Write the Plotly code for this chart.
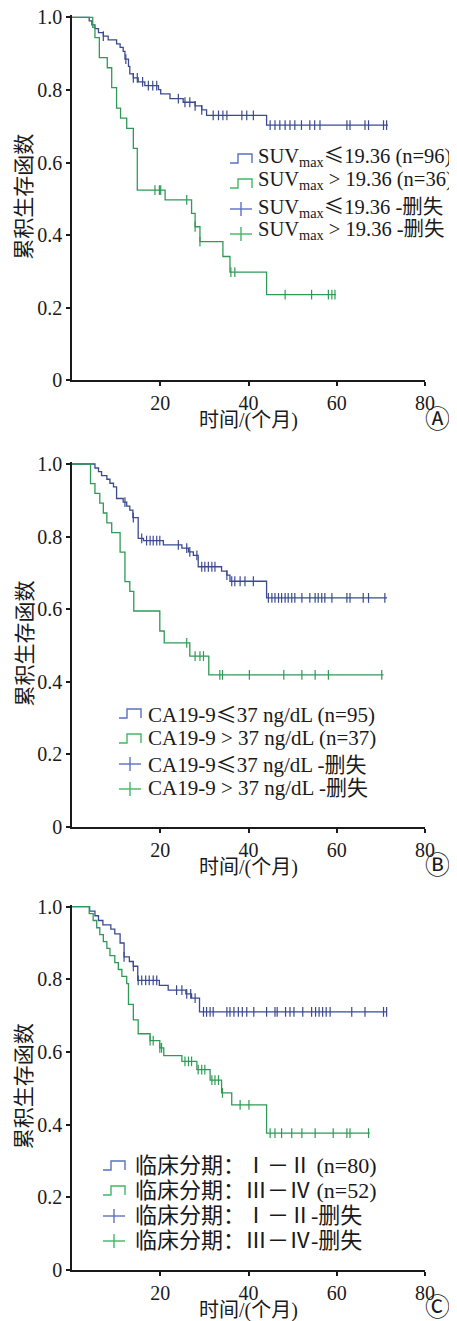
import numpy as np
import plotly.graph_objects as go

# target picture size and the page's default body offset
W_PIC, H_PIC = 457, 1321
OFF = 8
W, H = W_PIC - OFF, H_PIC - OFF

# ---------------- DATA ----------------
# Panel A: SUVmax
a_low_t = [0, 3.9, 4.5, 5.2, 6.0, 7.1, 8.2, 10.1, 10.9, 11.6, 12.0, 12.8, 13.1, 13.9, 15.0, 16.5, 19.6, 20.1, 22.2, 25.2, 27.9, 29.4, 30.5, 44.1]
a_low_s = [1.0, 0.990, 0.979, 0.969, 0.958, 0.948, 0.938, 0.927, 0.917, 0.906, 0.885, 0.865, 0.844, 0.833, 0.822, 0.812, 0.801, 0.789, 0.776, 0.766, 0.756, 0.745, 0.730, 0.703]
a_low_end = 71.6
a_low_c = [7.1, 12.2, 13.9, 14.8, 16.0, 17.3, 18.3, 19.2, 24.1, 25.6, 26.7, 27.9, 29.4, 32.0, 33.2, 34.2, 35.1, 38.5, 39.6, 41.1,
           44.9, 46.0, 47.1, 48.3, 49.4, 50.5, 52.0, 53.9, 55.0, 56.2, 62.3, 63.0, 66.4, 67.2, 70.6, 71.3]
a_high_t = [0, 4.7, 5.2, 6.2, 8.0, 9.0, 10.1, 11.0, 12.4, 13.9, 14.8, 21.1, 27.1, 27.9, 29.0, 34.2, 35.8, 44.1]
a_high_s = [1.0, 0.972, 0.944, 0.889, 0.861, 0.806, 0.750, 0.722, 0.694, 0.639, 0.524, 0.497, 0.460, 0.423, 0.382, 0.341, 0.298, 0.236]
a_high_end = 59.8
a_high_c = [18.8, 19.8, 20.1, 26.0, 27.9, 29.0, 36.0, 36.9, 48.3, 54.3, 58.1, 58.9, 59.6]

# Panel B: CA19-9
b_low_t = [0, 5.2, 6.0, 6.7, 7.9, 8.6, 9.4, 10.1, 11.6, 12.4, 13.1, 13.8, 15.0, 16.2, 20.7, 24.9, 26.4, 27.5, 28.6, 33.9, 35.1, 35.8, 44.1]
b_low_s = [1.0, 0.989, 0.979, 0.968, 0.958, 0.947, 0.937, 0.905, 0.895, 0.884, 0.873, 0.852, 0.795, 0.789, 0.777, 0.768, 0.758, 0.748, 0.717, 0.705, 0.694, 0.677, 0.631]
b_low_end = 71.4
b_low_c = [12.0, 13.9, 15.8, 16.9, 17.7, 18.4, 19.2, 19.9, 24.1, 26.0, 26.7, 28.3, 29.4, 30.1, 30.9, 31.7, 32.4, 35.1, 36.2, 36.9,
           38.1, 39.2, 41.1, 44.5, 45.3, 46.0, 46.8, 47.5, 48.3, 49.0, 49.8, 50.5, 52.1, 53.9, 55.1, 55.8, 56.6, 57.3, 58.9,
           62.3, 63.0, 66.0, 67.2, 70.9]
b_high_t = [0, 4.2, 5.2, 6.3, 7.1, 7.9, 9.0, 10.9, 12.0, 13.1, 14.0, 19.9, 20.9, 26.7, 31.0]
b_high_s = [1.0, 0.946, 0.919, 0.892, 0.865, 0.838, 0.811, 0.757, 0.676, 0.649, 0.595, 0.540, 0.507, 0.471, 0.419]
b_high_end = 70.6
b_high_c = [26.0, 27.9, 29.0, 29.8, 33.5, 34.1, 40.2, 48.0, 52.1, 55.1, 58.1, 70.2]

# Panel C: clinical stage
c_low_t = [0, 4.0, 5.2, 6.0, 7.0, 8.8, 9.7, 10.9, 11.8, 13.0, 13.9, 14.9, 19.8, 21.8, 25.8, 27.1, 28.9]
c_low_s = [1.0, 0.988, 0.975, 0.962, 0.950, 0.938, 0.925, 0.900, 0.862, 0.849, 0.836, 0.797, 0.783, 0.770, 0.760, 0.748, 0.710]
c_low_end = 71.4
c_low_c = [11.8, 13.9, 15.0, 15.8, 16.7, 17.5, 18.4, 19.2, 23.7, 24.9, 26.0, 26.9, 27.9, 29.8, 30.5, 31.3, 32.0, 35.1, 35.8,
           36.7, 37.7, 38.6, 39.6, 41.2, 44.1, 46.0, 46.5, 48.4, 49.4, 50.3, 52.3, 54.3, 55.2, 56.0, 56.8, 57.6, 58.5,
           63.4, 66.4, 70.6, 71.3]
c_high_t = [0, 3.9, 4.8, 5.6, 6.3, 7.1, 7.9, 8.6, 9.7, 10.5, 11.3, 12.4, 12.8, 13.9, 15.0, 17.7, 19.9, 20.8, 24.9, 28.3, 31.3, 33.9, 36.2, 44.1]
c_high_s = [1.0, 0.981, 0.962, 0.942, 0.923, 0.904, 0.885, 0.865, 0.846, 0.827, 0.808, 0.788, 0.731, 0.688, 0.650, 0.631, 0.611, 0.590, 0.574, 0.551, 0.522, 0.487, 0.454, 0.376]
c_high_end = 67.5
c_high_c = [17.7, 18.4, 19.9, 20.3, 25.6, 26.4, 27.1, 28.6, 29.4, 30.1, 31.7, 32.4, 33.2, 34.1, 38.1, 40.1,
            44.9, 46.0, 47.5, 49.8, 52.1, 55.1, 59.2, 62.3, 63.0, 67.2]

LE = "<span style=\"font-family:'Noto Sans CJK SC'\">≤</span>"
legend_a = [f"SUV<sub>max</sub>{LE}19.36 (n=96)", "SUV<sub>max</sub> > 19.36 (n=36)",
            f"SUV<sub>max</sub>{LE}19.36 -删失", "SUV<sub>max</sub> > 19.36 -删失"]
legend_b = [f"CA19-9{LE}37 ng/dL (n=95)", "CA19-9 > 37 ng/dL (n=37)",
            f"CA19-9{LE}37 ng/dL -删失", "CA19-9 > 37 ng/dL -删失"]
legend_c = ["临床分期：Ⅰ－Ⅱ (n=80)", "临床分期：Ⅲ－Ⅳ (n=52)",
            "临床分期：Ⅰ－Ⅱ-删失", "临床分期：Ⅲ－Ⅳ-删失"]
panel_labels = ["Ⓐ", "Ⓑ", "Ⓒ"]
x_ticks = [20, 40, 60, 80]
y_ticks = [0, 0.2, 0.4, 0.6, 0.8, 1.0]
y_ticktext = ["0", "0.2", "0.4", "0.6", "0.8", "1.0"]
x_title = "时间/(个月)"
y_title = "累积生存函数"

# ---------------- STYLE ----------------
BLUE = "#3b4a90"
GREEN = "#2f9a55"
BLUE_L = "#5a70c2"
GREEN_L = "#3fb865"
AX = "#1a1a1a"
SERIF = "Liberation Serif"
MIXED = "Liberation Serif, Noto Sans CJK SC"
CJK = "Noto Sans CJK SC"


def px(x):
    return (x - OFF) / W


def py(y):
    return 1 - (y - OFF) / H


YMAX = 1.006
panels = [
    dict(y0=380.3, y1=17.3, low=(a_low_t, a_low_s, a_low_end, a_low_c), high=(a_high_t, a_high_s, a_high_end, a_high_c),
         legend=legend_a, lx=230, ltx=256, ly=[158, 183, 208, 233], tshift=-3, lsize=20.5, xt=421, lab=(437, 417)),
    dict(y0=827.0, y1=464.0, low=(b_low_t, b_low_s, b_low_end, b_low_c), high=(b_high_t, b_high_s, b_high_end, b_high_c),
         legend=legend_b, lx=119, ltx=146, ly=[713, 738, 763, 788], tshift=0, lsize=21, xt=867, lab=(437, 863)),
    dict(y0=1269.7, y1=906.7, low=(c_low_t, c_low_s, c_low_end, c_low_c), high=(c_high_t, c_high_s, c_high_end, c_high_c),
         legend=legend_c, lx=103, ltx=133, ly=[1165, 1190, 1215, 1240], tshift=0, lsize=22, xt=1310, lab=(437, 1305)),
]

X0, X1 = 72.0, 425.0

fig = go.Figure()
annotations = []
shapes = []


def censor_y(times, surv, cens):
    idx = np.searchsorted(np.array(times), np.array(cens), side="right") - 1
    return np.array(surv)[idx]


for i, p in enumerate(panels, start=1):
    xa = "x" if i == 1 else f"x{i}"
    ya = "y" if i == 1 else f"y{i}"
    for (t, s, end, c), col in ((p["low"], BLUE), (p["high"], GREEN)):
        fig.add_trace(go.Scatter(x=list(t) + [end], y=list(s) + [s[-1]], mode="lines",
                                 line=dict(color=col, width=1.3, shape="hv"),
                                 xaxis=xa, yaxis=ya, showlegend=False, hoverinfo="skip"))
        fig.add_trace(go.Scatter(x=c, y=censor_y(t, s, c), mode="markers",
                                 marker=dict(symbol="line-ns", size=7, line=dict(color=col, width=1.2)),
                                 xaxis=xa, yaxis=ya, showlegend=False, hoverinfo="skip"))

    scale = (p["y0"] - p["y1"])
    top_px = p["y1"] - (YMAX - 1.0) * scale
    dom_y = [py(p["y0"]), py(top_px)]
    axkey_x = "xaxis" if i == 1 else f"xaxis{i}"
    axkey_y = "yaxis" if i == 1 else f"yaxis{i}"
    fig.layout[axkey_x] = dict(domain=[px(X0), px(X1)], range=[0, 80], anchor=ya, automargin=False,
                               tickvals=x_ticks, ticks="outside", ticklen=4, tickwidth=1.5, tickcolor=AX,
                               showline=True, linecolor=AX, linewidth=1.6, showgrid=False, zeroline=False,
                               ticklabeloverflow="allow",
                               tickfont=dict(family=SERIF, size=20, color=AX), fixedrange=True)
    fig.layout[axkey_y] = dict(domain=dom_y, range=[0, YMAX], anchor=xa, automargin=False,
                               tickvals=y_ticks, ticktext=y_ticktext, ticks="outside", ticklen=4, tickwidth=1.5,
                               tickcolor=AX, showline=True, linecolor=AX, linewidth=1.6, showgrid=False,
                               zeroline=False, ticklabeloverflow="allow",
                               tickfont=dict(family=SERIF, size=20, color=AX), fixedrange=True)

    annotations.append(dict(x=px((X0 + X1) / 2), y=py(p["xt"]), xref="paper", yref="paper", text=x_title,
                            showarrow=False, xanchor="center", yanchor="middle",
                            font=dict(family=MIXED, size=20, color=AX)))
    annotations.append(dict(x=px(22), y=py((p["y0"] + p["y1"]) / 2 - 2), xref="paper", yref="paper", text=y_title,
                            showarrow=False, xanchor="center", yanchor="middle", textangle=-90,
                            font=dict(family=CJK, size=21, color=AX)))
    annotations.append(dict(x=px(p["lab"][0]), y=py(p["lab"][1]), xref="paper", yref="paper",
                            text=panel_labels[i - 1], showarrow=False, xanchor="center", yanchor="middle",
                            font=dict(family=CJK, size=25, color=AX)))

    cols = [BLUE_L, GREEN_L, BLUE_L, GREEN_L]
    for k, (txt, yy, col) in enumerate(zip(p["legend"], p["ly"], cols)):
        annotations.append(dict(x=px(p["ltx"]), y=py(yy + p["tshift"]), xref="paper", yref="paper", text=txt,
                                showarrow=False, xanchor="left", yanchor="middle",
                                font=dict(family=MIXED, size=p["lsize"], color=AX)))
        x0 = px(p["lx"]); x1 = px(p["lx"] + 22)
        if k < 2:
            xm = px(p["lx"] + 8)
            yb = py(yy + 5); yt = py(yy - 4)
            path = f"M {x0},{yb} L {xm},{yb} L {xm},{yt} L {x1},{yt} L {x1},{yb}"
            shapes.append(dict(type="path", path=path, xref="paper", yref="paper",
                               line=dict(color=col, width=1.4)))
        else:
            ym = py(yy + 1)
            shapes.append(dict(type="line", x0=x0, x1=x1, y0=ym, y1=ym, xref="paper", yref="paper",
                               line=dict(color=col, width=1.4)))
            xc = px(p["lx"] + 11)
            shapes.append(dict(type="line", x0=xc, x1=xc, y0=py(yy - 6), y1=py(yy + 8), xref="paper", yref="paper",
                               line=dict(color=col, width=1.4)))

fig.update_layout(width=W, height=H, margin=dict(l=0, r=0, t=0, b=0, autoexpand=False),
                  paper_bgcolor="white", plot_bgcolor="white",
                  annotations=annotations, shapes=shapes, showlegend=False)

fig.write_html("out.html")
